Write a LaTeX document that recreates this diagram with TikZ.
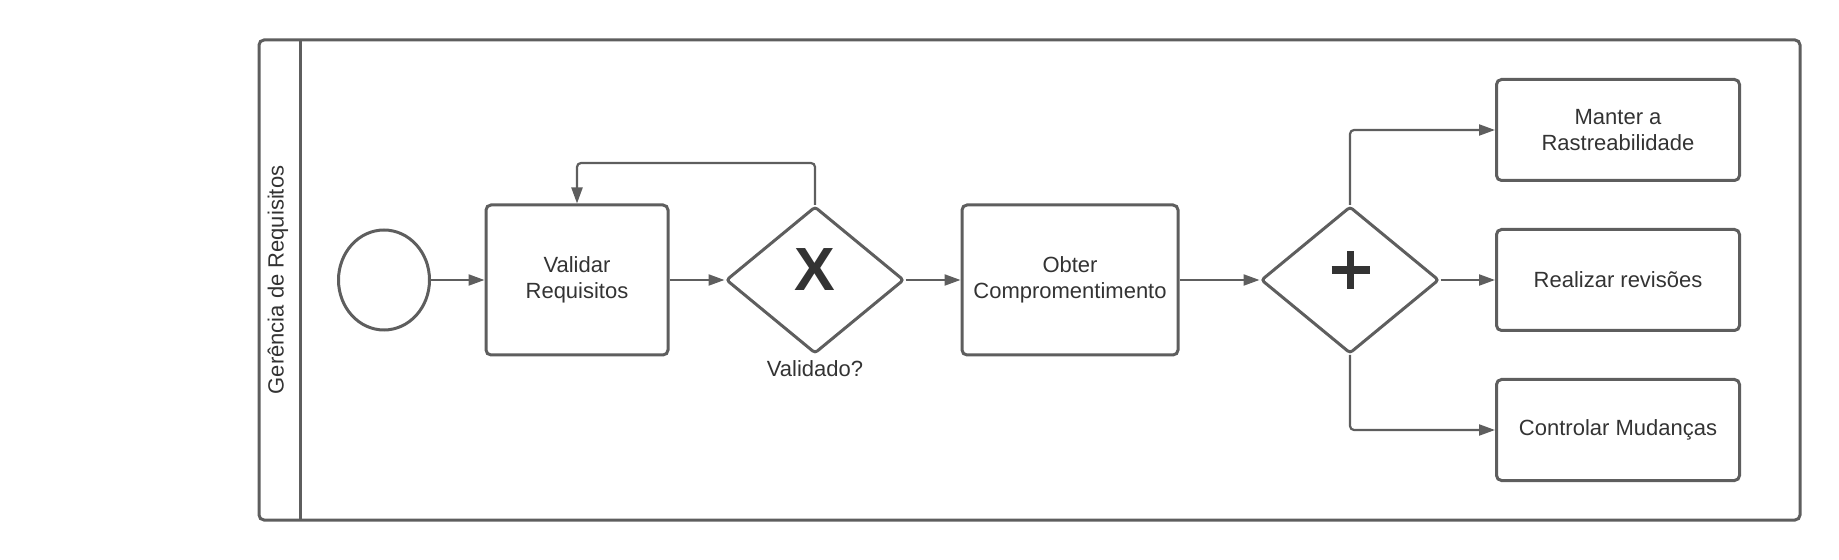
\documentclass[tikz,border=0pt]{standalone}
\usepackage{fontspec}
\setmainfont{Liberation Sans}
\usepackage{tikz}
\usetikzlibrary{shapes.geometric,arrows.meta}

\definecolor{linegray}{HTML}{5E5E5E}
\definecolor{textgray}{HTML}{333333}

\begin{document}
\begin{tikzpicture}[x=0.5pt,y=-0.5pt,
	every node/.style={font=\fontsize{11}{13}\selectfont, text=textgray, align=center},
	task/.style={draw=linegray, line width=1.5pt, rounded corners=2.5pt, minimum height=75pt, inner sep=0pt},
	gate/.style={draw=linegray, line width=1.5pt, diamond, rounded corners=1.5pt, minimum width=89pt, minimum height=73.5pt, inner sep=0pt},
	flow/.style={draw=linegray, line width=1.1pt, rounded corners=2pt, -{Triangle[length=8pt,width=5.5pt]}}]
	\useasboundingbox (0,0) rectangle (1839,560);
	% Pool %
	\draw [linegray, line width=1.5pt, rounded corners=2.5pt] (259,40) rectangle (1800,520);
	\draw [linegray, line width=1.5pt] (300,40) -- (300,520);
	\node (lane) [rotate=90] at (278,280) {Gerência de Requisitos};
	% Start Event %
	\node (inicio) [draw=linegray, line width=1.5pt, ellipse, minimum width=45.5pt, minimum height=50pt] at (384,280) {};
	% Tasks %
	\node (validar) [task, minimum width=91pt] at (577,280) {Validar\\Requisitos};
	\node (obter) [task, minimum width=108pt] at (1070,280) {Obter\\Compromentimento};
	\node (manter) [task, minimum width=121.5pt, minimum height=50.5pt] at (1618,130) {Manter a\\Rastreabilidade};
	\node (revisoes) [task, minimum width=121.5pt, minimum height=50.5pt] at (1618,280) {Realizar revisões};
	\node (mudancas) [task, minimum width=121.5pt, minimum height=50.5pt] at (1618,430) {Controlar Mudanças};
	% Gateways %
	\node (validado) [gate] at (815,280) {};
	\node (xis) [font=\fontsize{30.5}{30}\selectfont\bfseries] at (815,270) {X};
	\node (pergunta) at (815,369) {Validado?};
	\node (paralelo) [gate] at (1350,280) {};
	\draw [textgray, line width=3.6pt] (1331.5,270) -- (1369.5,270);
	\draw [textgray, line width=3.6pt] (1350.5,251.5) -- (1350.5,289);
	% Sequence Flows %
	\draw [flow] (inicio) -- (validar);
	\draw [flow] (validar) -- (validado);
	\draw [flow] (validado.north) -- ++(0,-42) -| (validar.north);
	\draw [flow] (validado) -- (obter);
	\draw [flow] (obter) -- (paralelo);
	\draw [flow] (paralelo.north) |- (manter);
	\draw [flow] (paralelo) -- (revisoes);
	\draw [flow] (paralelo.south) |- (mudancas);
\end{tikzpicture}
\end{document}
